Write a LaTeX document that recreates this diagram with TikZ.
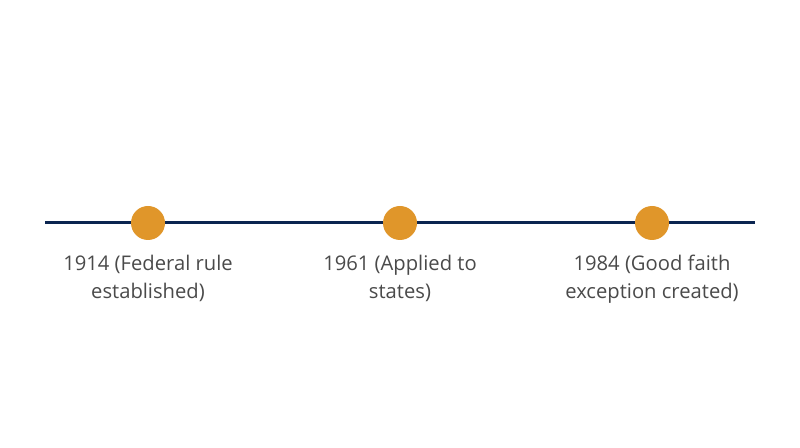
\documentclass[tikz,border=0pt]{standalone}
\usepackage{fontspec}
\setmainfont{Open Sans}
\usepackage{tikz}
\usetikzlibrary{positioning}
\definecolor{navy}{HTML}{0B2550}
\definecolor{amber}{HTML}{E0962A}
\definecolor{greytext}{HTML}{4A4A4A}
\tikzstyle{event} = [circle, fill=amber, minimum size=34pt, inner sep=0pt]
\tikzstyle{label} = [align=center, inner sep=0pt, text=greytext, font=\fontsize{20.2}{28}\selectfont]

\begin{document}
\begin{tikzpicture}[x=1pt,y=1pt]
      \useasboundingbox (0,0) rectangle (800,447);
      \coordinate (LineStart) at (45,224);
      \coordinate (LineEnd) at (755,224);
      \draw[navy, line width=3pt] (LineStart) -- (LineEnd);
      %
      \node[event] (Dot1914) at (148,224) {};
      \node[event] (Dot1961) at (400,224) {};
      \node[event] (Dot1984) at (652,224) {};
      %
      \node[label,below=14.5pt of Dot1914] (Label1914) {1914 (Federal rule\\established)};
      \node[label,below=14.5pt of Dot1961] (Label1961) {1961 (Applied to\\states)};
      \node[label,below=14.5pt of Dot1984] (Label1984) {1984 (Good faith\\exception created)};
    \end{tikzpicture}
\end{document}
